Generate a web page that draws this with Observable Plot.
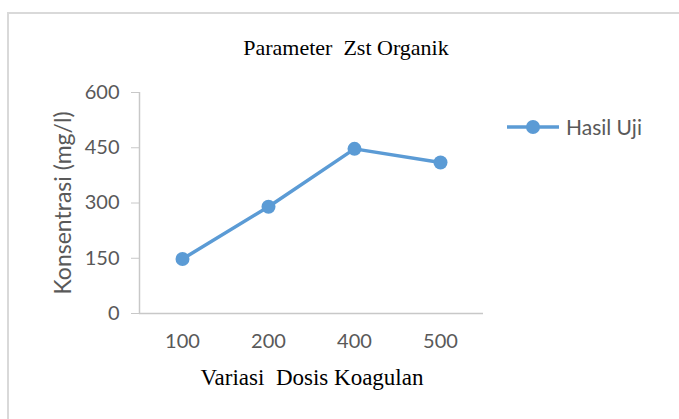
<!DOCTYPE html>
<html>
<head>
<meta charset="utf-8">
<script src="https://cdn.jsdelivr.net/npm/d3@7"></script>
<script src="https://cdn.jsdelivr.net/npm/@observablehq/plot@0.6"></script>
<style>
  html, body { margin: 0; padding: 0; background: #fff; }
  #wrap { position: relative; width: 679px; height: 419px; overflow: hidden; background: #fff; }
  #frame { position: absolute; left: 7px; top: 12px; width: 720px; height: 480px; border: 2px solid #d9d9d9; box-sizing: border-box; }
  #chart { position: absolute; left: 0; top: 0; }
  .t { position: absolute; white-space: pre; }
  #title { left: 0; width: 692px; top: 35px; text-align: center; font-family: "Liberation Serif", serif; font-size: 22px; color: #000; }
  #xtitle { left: 0; width: 624px; top: 365px; text-align: center; font-family: "Liberation Serif", serif; font-size: 23px; color: #000; }
  #ytitle { left: 62px; top: 203px; transform: translate(-50%, -50%) rotate(-90deg); font-family: Lato, sans-serif; font-size: 23px; color: #595959; }
  #legend { position: absolute; left: 505px; top: 114px; display: flex; align-items: center; font-family: Lato, sans-serif; font-size: 21px; color: #595959; }
  #legend svg { margin-right: 5px; }
</style>
</head>
<body>
<div id="wrap">
  <div id="frame"></div>
  <div id="chart"></div>
  <div class="t" id="title">Parameter  Zst Organik</div>
  <div class="t" id="xtitle">Variasi  Dosis Koagulan</div>
  <div class="t" id="ytitle">Konsentrasi (mg/l)</div>
  <div id="legend"></div>
</div>
<script>
const categories = ["100", "200", "400", "500"];
const values = [148, 290, 447, 410];
const yTicks = [0, 150, 300, 450, 600];
const seriesName = "Hasil Uji";

const color = "#5b9bd5";
const data = categories.map((c, i) => ({i, c, v: values[i]}));

const plot = Plot.plot({
  width: 679,
  height: 419,
  marginLeft: 139,
  marginRight: 196,
  marginTop: 92,
  marginBottom: 106,
  style: {fontFamily: "Lato, sans-serif", fontSize: "20px", color: "#595959", background: "transparent"},
  x: {domain: [-0.5, categories.length - 0.5], axis: null},
  y: {domain: [0, 600], axis: null},
  marks: [
    Plot.ruleX([-0.5], {stroke: "#c8c8c8", strokeWidth: 1.5}),
    Plot.ruleY([0], {stroke: "#c8c8c8", strokeWidth: 1.5}),
    Plot.axisY({ticks: yTicks, tickSize: 8, tickPadding: 12, stroke: "#c8c8c8", fill: "#595959", label: null}),
    Plot.axisX({ticks: d3.range(categories.length), tickFormat: i => categories[i], tickSize: 0, tickPadding: 20, fill: "#595959", label: null}),
    Plot.line(data, {x: "i", y: "v", stroke: color, strokeWidth: 3.5}),
    Plot.dot(data, {x: "i", y: "v", r: 7, fill: color, stroke: "none"})
  ]
});
document.getElementById("chart").appendChild(plot);

const leg = document.getElementById("legend");
const sw = d3.create("svg").attr("width", 56).attr("height", 24);
sw.append("line").attr("x1", 2).attr("x2", 54).attr("y1", 12).attr("y2", 12).attr("stroke", color).attr("stroke-width", 3.5);
sw.append("circle").attr("cx", 28).attr("cy", 12).attr("r", 7).attr("fill", color);
leg.appendChild(sw.node());
const lt = document.createElement("span");
lt.textContent = seriesName;
leg.appendChild(lt);
</script>
</body>
</html>
